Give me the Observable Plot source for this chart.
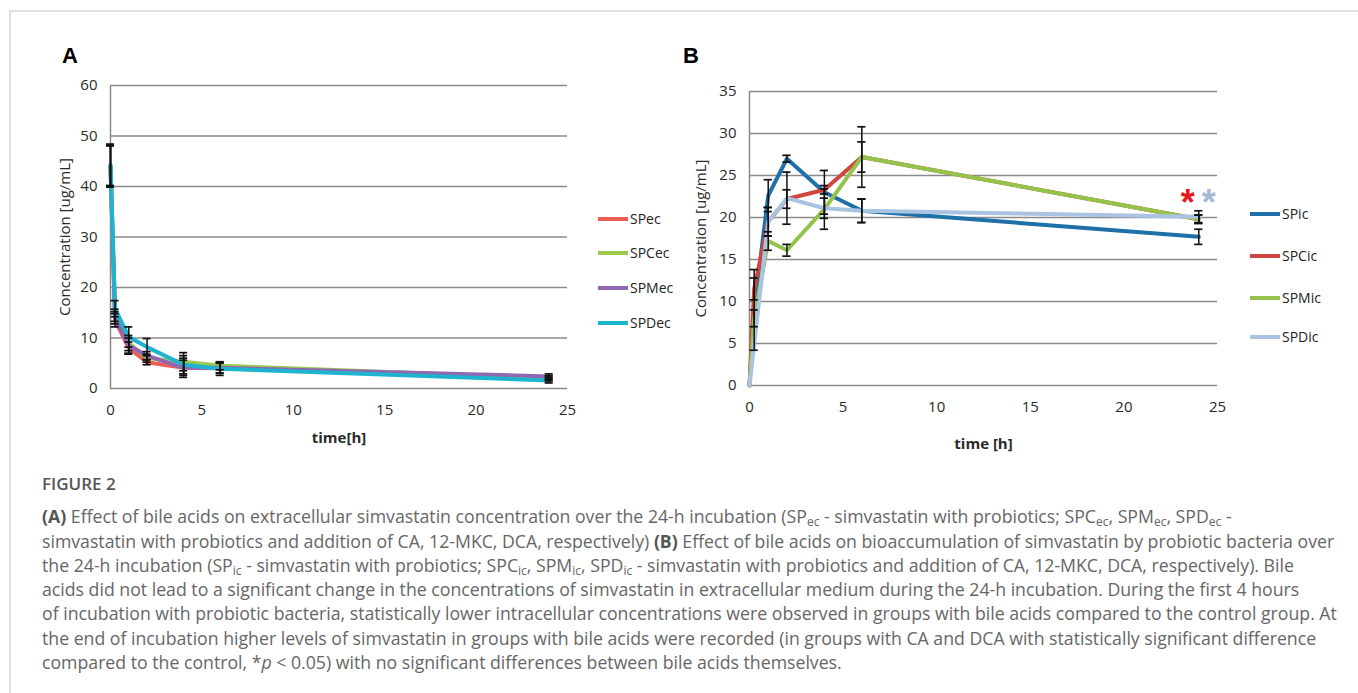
<!DOCTYPE html>
<html><head><meta charset="utf-8">
<script src="https://cdn.jsdelivr.net/npm/d3@7"></script>
<script src="https://cdn.jsdelivr.net/npm/@observablehq/plot@0.6"></script>
<style>
body{margin:0;background:#fff;width:1358px;height:693px;overflow:hidden;position:relative;font-family:"Open Sans",sans-serif;}
#frame{position:absolute;left:9px;top:10px;width:1400px;height:800px;border-top:2px solid #e0e0e0;border-left:2px solid #e0e0e0;}
.panel{position:absolute;}
.plabel{position:absolute;font-family:"Liberation Sans",Arial,sans-serif;font-weight:bold;font-size:22px;color:#000;line-height:22px;}
.leg{position:absolute;font-family:"Open Sans",sans-serif;font-size:14px;color:#222;display:flex;align-items:center;height:20px;line-height:20px;}
.leg .sw{display:inline-block;width:30px;height:4px;margin-right:2px;}
#cap{position:absolute;left:42px;top:472px;font-family:"Open Sans",sans-serif;color:#666;font-size:15px;line-height:24.3px;}
#cap .ln{white-space:nowrap;}
#cap b{color:#555;}
#cap .hd{font-size:17px;font-weight:600;color:#555;margin-bottom:8px;}
#cap sub{font-size:0.68em;line-height:0;vertical-align:-0.25em;}
</style></head>
<body>
<div id="frame"></div>
<div class="plabel" style="left:62px;top:45px;">A</div>
<div class="plabel" style="left:683px;top:45px;">B</div>
<div id="pA" class="panel" style="left:0px;top:40px;"></div>
<div id="pB" class="panel" style="left:640px;top:40px;"></div>
<div id="legA"></div>
<div id="legB"></div>
<div id="cap">
<div class="ln hd">FIGURE 2</div>
<div class="ln"><b>(A)</b> Effect of bile acids on extracellular simvastatin concentration over the 24-h incubation (SP<sub>ec</sub> - simvastatin with probiotics; SPC<sub>ec</sub>, SPM<sub>ec</sub>, SPD<sub>ec</sub> -</div>
<div class="ln" id="refline">simvastatin with probiotics and addition of CA, 12-MKC, DCA, respectively) <b>(B)</b> Effect of bile acids on bioaccumulation of simvastatin by probiotic bacteria over</div>
<div class="ln">the 24-h incubation (SP<sub>ic</sub> - simvastatin with probiotics; SPC<sub>ic</sub>, SPM<sub>ic</sub>, SPD<sub>ic</sub> - simvastatin with probiotics and addition of CA, 12-MKC, DCA, respectively). Bile</div>
<div class="ln">acids did not lead to a significant change in the concentrations of simvastatin in extracellular medium during the 24-h incubation. During the first 4 hours</div>
<div class="ln">of incubation with probiotic bacteria, statistically lower intracellular concentrations were observed in groups with bile acids compared to the control group. At</div>
<div class="ln">the end of incubation higher levels of simvastatin in groups with bile acids were recorded (in groups with CA and DCA with statistically significant difference</div>
<div class="ln">compared to the control, *<i>p</i> &lt; 0.05) with no significant differences between bile acids themselves.</div>
</div>
<script>
// ---------- data ----------
const times = [0, 0.25, 1, 2, 4, 6, 24];
const xTicks = [0, 5, 10, 15, 20, 25];

// Panel A: extracellular
const seriesA = ["SPec", "SPCec", "SPMec", "SPDec"];
const colorsA = ["#ef5b55", "#9bc94e", "#8e69b2", "#1cb4ce"];
const SPec  = [44.0, 13.5, 8.0, 5.2, 4.1, 4.0, 2.0];
const SPCec = [44.0, 14.5, 9.0, 6.0, 5.3, 4.5, 2.1];
const SPMec = [44.0, 14.0, 8.5, 6.5, 4.1, 4.1, 2.4];
const SPDec = [44.3, 15.8, 10.2, 8.2, 4.7, 3.9, 1.6];
const errSPec  = [4.1, 1.3, 1.2, 0.5, 1.9, 1.0, 0.5];
const errSPCec = [4.1, 1.2, 1.5, 0.8, 1.8, 0.8, 0.4];
const errSPMec = [4.1, 1.2, 1.5, 0.8, 1.5, 1.0, 0.5];
const errSPDec = [4.1, 1.6, 2.0, 1.7, 1.8, 1.3, 0.5];
const yTicksA = [0, 10, 20, 30, 40, 50, 60];

// Panel B: intracellular
const seriesB = ["SPic", "SPCic", "SPMic", "SPDic"];
const colorsB = ["#1f6fa8", "#d0463e", "#93c34b", "#a9c3e3"];
const SPic  = [0, 9.0, 22.6, 27.0, 23.0, 20.8, 17.7];
const SPCic = [0, 11.5, 19.5, 22.2, 23.3, 27.2, 19.8];
const SPMic = [0, 8.0, 17.2, 16.1, 21.0, 27.2, 19.8];
const SPDic = [0, 4.9, 19.5, 22.3, 21.1, 20.8, 20.1];
const errSPic  = [0, 4.8, 1.9, 0.4, 2.6, 1.4, 0.9];
const errSPCic = [0, 1.3, 1.7, 1.1, 0.5, 3.6, 0.5];
const errSPMic = [0, 1.0, 1.1, 0.7, 2.4, 1.8, 0.5];
const errSPDic = [0, 0, 1.7, 3.1, 1.2, 1.4, 0.7];
const yTicksB = [0, 5, 10, 15, 20, 25, 30, 35];

// significance markers (panel B, 24 h)
const sigLabels = ["*", "*"];
const sigSeries = ["SPCic", "SPDic"];
const sigColors = ["#e8141c", "#a7b8d6"];
const sigTime = 24;
const sigLevel = 22.9;

// ---------- build ----------
function tidy(names, vals, errs) {
  const rows = [];
  names.forEach((s, i) => times.forEach((t, j) => rows.push({series: s, t, value: vals[i][j], err: errs[i][j]})));
  return rows;
}
const rowsA = tidy(seriesA, [SPec, SPCec, SPMec, SPDec], [errSPec, errSPCec, errSPMec, errSPDec]);
const rowsB = tidy(seriesB, [SPic, SPCic, SPMic, SPDic], [errSPic, errSPCic, errSPMic, errSPDic]);

const gridColor = "#8a8a8a";
function panel(rows, names, colors, yTicks, yMax, xLabel, opts) {
  const er = rows.filter(d => d.err > 0);
  const cw = 0.22;
  const p = Plot.plot({
    width: opts.width, height: 420,
    marginLeft: opts.ml, marginRight: opts.mr, marginTop: opts.mt, marginBottom: opts.mb,
    style: {fontFamily: "Open Sans, sans-serif", fontSize: "15px", color: "#2a2a2a", background: "transparent"},
    x: {domain: [0, 25], ticks: xTicks, tickSize: 0, tickPadding: 16, label: xLabel, labelAnchor: "center", labelOffset: opts.xo, labelArrow: "none"},
    y: {domain: [0, yMax], ticks: yTicks, tickSize: 0, tickPadding: 13, label: "Concentration [ug/mL]", labelAnchor: "center", labelOffset: opts.lo, labelArrow: "none"},
    color: {domain: names, range: colors},
    marks: [
      Plot.gridY(yTicks, {stroke: gridColor, strokeOpacity: 1, strokeWidth: 1.5}),
      Plot.ruleX([0], {stroke: gridColor, strokeWidth: 1.5}),
      Plot.line(rows, {x: "t", y: "value", z: "series", stroke: "series", strokeWidth: 4, strokeLinejoin: "round"}),
      Plot.ruleX(er, {x: "t", y1: d => d.value - d.err, y2: d => d.value + d.err, stroke: "#111", strokeWidth: 1.5}),
      Plot.ruleY(er, {y: d => d.value + d.err, x1: d => d.t - cw, x2: d => d.t + cw, stroke: "#111", strokeWidth: 1.7}),
      Plot.ruleY(er, {y: d => d.value - d.err, x1: d => d.t - cw, x2: d => d.t + cw, stroke: "#111", strokeWidth: 1.7}),
      ...(opts.extra || [])
    ]
  });
  d3.select(p).selectAll('[aria-label="x-axis label"]').attr("font-weight", "bold");
  return p;
}

document.getElementById("pA").appendChild(panel(rowsA, seriesA, colorsA, yTicksA, 60, "time[h]",
  {width: 600, ml: 110, mr: 33, mt: 45, mb: 72, lo: 51, xo: 54}));

const sigData = sigLabels.map((l, i) => ({label: l, series: sigSeries[i], color: sigColors[i], t: sigTime, y: sigLevel}));
document.getElementById("pB").appendChild(panel(rowsB, seriesB, colorsB, yTicksB, 35, "time [h]",
  {width: 600, ml: 109, mr: 23, mt: 51, mb: 75, lo: 54, xo: 63, extra: [
    Plot.text(sigData.slice(0, 1), {x: "t", y: "y", text: "label", fill: "color", dx: -11, dy: 10, fontSize: 36, fontWeight: "bold", fontFamily: "Liberation Sans, sans-serif"}),
    Plot.text(sigData.slice(1), {x: "t", y: "y", text: "label", fill: "color", dx: 10, dy: 10, fontSize: 36, fontWeight: "bold", fontFamily: "Liberation Sans, sans-serif"})
  ]}));

// legends (HTML)
function legend(id, names, colors, left, tops) {
  const el = document.getElementById(id);
  names.forEach((n, i) => {
    const d = document.createElement("div");
    d.className = "leg";
    d.style.left = left + "px";
    d.style.top = (tops[i] - 10) + "px";
    d.innerHTML = `<span class="sw" style="background:${colors[i]}"></span>${n}`;
    el.appendChild(d);
  });
}
legend("legA", seriesA, colorsA, 598, [219, 253, 288, 323]);
legend("legB", seriesB, colorsB, 1250, [214, 256, 298, 337]);

// caption sizing: widest line spans to the right margin
const ref = document.getElementById("refline");
const w = ref.getBoundingClientRect().width;
const target = 1296;
document.getElementById("cap").style.fontSize = (15 * target / w).toFixed(2) + "px";
</script>
</body></html>
